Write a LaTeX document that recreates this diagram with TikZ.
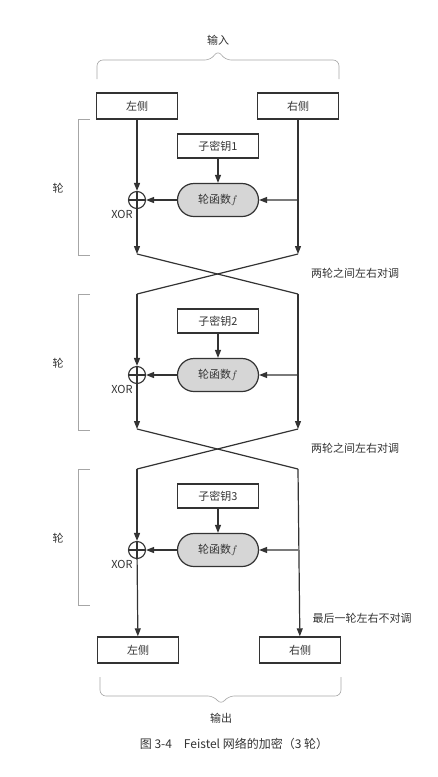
\documentclass[tikz,border=0pt]{standalone}
\usepackage{fontspec}
\setmainfont{Noto Sans CJK SC}
\usetikzlibrary{arrows.meta,shapes.misc}
\definecolor{ink}{HTML}{333333}
\definecolor{fgray}{HTML}{D6D6D6}
\tikzset{>={Triangle[length=8pt,width=6pt]}}
\tikzset{
  every node/.style={font=\fontsize{11}{13}\selectfont, text=ink},
  sidebox/.style={draw=ink, line width=1.4pt, minimum width=81pt, minimum height=26pt, inner sep=0pt},
  keybox/.style={draw=ink, line width=1.2pt, minimum width=81pt, minimum height=24pt, inner sep=0pt},
  fbox/.style={rounded rectangle, draw=ink, fill=fgray, line width=1.2pt, minimum width=81pt, minimum height=33pt, inner sep=0pt},
  xorop/.style={circle, draw=ink, line width=1.1pt, minimum size=17pt, inner sep=0pt,
    path picture={\draw[ink, line width=1.1pt] (path picture bounding box.north) -- (path picture bounding box.south)
      (path picture bounding box.west) -- (path picture bounding box.east);}},
  flow/.style={draw=ink, line width=1.2pt},
  bracket/.style={draw=gray!70, line width=0.6pt, rounded corners=6pt},
}

\begin{document}
\begin{tikzpicture}[x=1pt, y=-1pt]
    \useasboundingbox (0,0) rectangle (438,777);
    % input / output
    \node (in) at (218,40) {输入};
    \draw[bracket] (97,79) -- (97,60) -- (211,60) -- (218,50) -- (225,60) -- (339,60) -- (339,79);
    \node[sidebox] (inL) at (137,106) {左侧};
    \node[sidebox] (inR) at (298,106) {右侧};
    \coordinate (lt1) at (inL.south);
    \coordinate (rt1) at (inR.south);

    \foreach \r/\fc in {1/200,2/375,3/550}{
        \node[keybox] (key\r) at (218,\fc-54) {子密钥\r};
        \node[fbox] (f\r) at (218,\fc) {轮函数$f$};
        \node[xorop] (xor\r) at (137,\fc) {};
        \node (xl\r) at (122,\fc+14) {XOR};
        \node (rl\r) at (58,\fc-12) {轮};
        \draw[bracket, rounded corners=0pt] (90,\fc-81) -- (78,\fc-81) -- (78,\fc+55) -- (90,\fc+55);
        \draw[flow, ->] (lt\r) -- (xor\r);
        \draw[flow, ->] (key\r) -- (f\r);
        \draw[flow, ->] (rt\r |- f\r) -- (f\r);
        \draw[flow, ->] (f\r) -- (xor\r);
        \ifnum\r<3
            \pgfmathtruncatemacro\n{\r+1}
            \coordinate (lb\r) at (137,\fc+54);
            \coordinate (rb\r) at (298,\fc+54);
            \coordinate (lt\n) at (137,\fc+94);
            \coordinate (rt\n) at (298,\fc+94);
            \draw[flow, ->] (xor\r) -- (lb\r);
            \draw[flow, ->] (rt\r) -- (rb\r);
            \draw[flow] (lb\r) -- (rt\n);
            \draw[flow] (rb\r) -- (lt\n);
            \node (sw\r) at (355,\fc+73) {两轮之间左右对调};
        \fi
    }

    \node[sidebox] (outL) at (138,650) {左侧};
    \node[sidebox] (outR) at (300,650) {右侧};
    \draw[flow, ->] (xor3) -- (outL);
    \draw[flow, ->] (rt3) -- (outR);
    \node (last) at (362,618) {最后一轮左右不对调};
    \draw[bracket] (100,677) -- (100,696) -- (214,696) -- (221,705) -- (228,696) -- (341,696) -- (341,677);
    \node (out) at (221,718) {输出};
    \node[font=\fontsize{12}{14}\selectfont] (cap) at (234,744) {图 3-4\quad Feistel 网络的加密（3 轮）};
\end{tikzpicture}
\end{document}
